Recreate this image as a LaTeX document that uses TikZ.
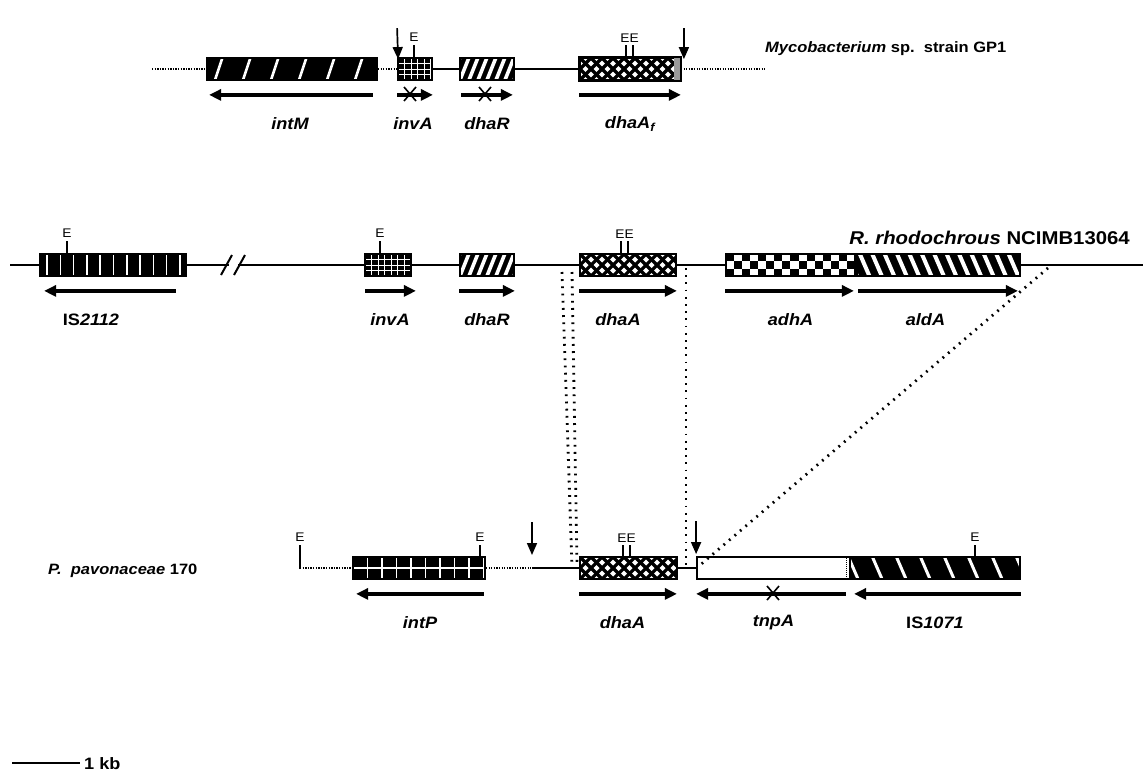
\documentclass[tikz,border=0pt]{standalone}
\usepackage{fontspec}
\setmainfont{Liberation Sans}[FakeStretch=1.1]
\usetikzlibrary{arrows.meta}

\begin{document}
\begin{tikzpicture}[
        x=1pt, y=-1pt,
        every node/.style={inner sep=0pt},
        gene/.style={draw, line width=1.8pt, minimum height=22pt},
        nome/.style={font=\fontsize{16.5}{19}\selectfont\bfseries\itshape},
        especie/.style={font=\fontsize{16.5}{19}\selectfont\bfseries},
        letra/.style={font=\fontsize{12.5}{14}\selectfont, above=2.5pt},
        fio/.style={line width=2.6pt},
        pontilhado/.style={line width=2.6pt, dash pattern=on 1.3pt off 1.3pt},
        projecao/.style={line width=2.8pt, dash pattern=on 1.8pt off 5.4pt},
        sitio/.style={line width=1.7pt},
        corte/.style={-{Triangle[length=12pt,width=10pt]}, line width=1.7pt},
        sentido/.style={-{Triangle[length=12pt,width=11pt]}, line width=3.3pt},
        cruz/.style={line width=1.6pt},
        listras/.style n args={4}{fill=black, path picture={
            \foreach \k in {-8,...,40}
                \draw[white, line width=#2] ([xshift=#4+\k*#1]path picture bounding box.south west) -- ++(#3,-30);
        }},
        grade/.style n args={3}{fill=black, path picture={
            \foreach \k in {1,...,25}
                \draw[white, line width=#3] ([xshift=\k*#1]path picture bounding box.south west) -- ++(0,-30);
            \foreach \k in {1,...,4}
                \draw[white, line width=#3] ([yshift=\k*#2]path picture bounding box.south west) -- ++(200,0);
        }},
        xadrez/.style={fill=white, path picture={
            \foreach \i in {0,2,...,16}{
                \fill[black] ([xshift=\i*8.06pt]path picture bounding box.south west) rectangle ++(8.06,-7.33);
                \fill[black] ([xshift=\i*8.06pt, yshift=14.67pt]path picture bounding box.south west) rectangle ++(8.06,-7.33);
                \fill[black] ([xshift=\i*8.06pt+8.06pt, yshift=7.33pt]path picture bounding box.south west) rectangle ++(8.06,-7.33);
            }
        }},
        losango/.style={fill=white, path picture={
            \foreach \k in {-6,...,20}{
                \draw[line width=3.2pt] ([xshift=\k*11pt]path picture bounding box.south west) -- ++(24,-24);
                \draw[line width=3.2pt] ([xshift=\k*11pt]path picture bounding box.south west) -- ++(-24,-24);
            }
        }}
    ]

        \useasboundingbox (0,0) rectangle (1143,777);

        %--------------------------------
        % Mycobacterium sp. strain GP1
        %--------------------------------
        \node[gene, minimum width=170pt, listras={28pt}{2.6pt}{10}{8pt}] (intM) at (292,69) {};
        \node[gene, minimum width=34pt, grade={6.5pt}{5.5pt}{0.9pt}] (invAm) at (415,69) {};
        \node[gene, minimum width=54pt, listras={9pt}{3.6pt}{12}{0pt}] (dhaRm) at (487,69) {};
        \node[gene, minimum width=100pt, losango] (dhaAf) at (630,69) {};
        \fill[black!40] ([xshift=-7pt]dhaAf.north east) rectangle (dhaAf.south east);
        \draw[line width=1.8pt] (dhaAf.north west) rectangle (dhaAf.south east);

        \coordinate (m0) at (152,69);
        \coordinate (m1) at (765,69);
        \draw[pontilhado] (m0) -- (intM.west);
        \draw[pontilhado] (intM.east) -- (invAm.west);
        \draw[fio] (invAm.east) -- (dhaRm.west);
        \draw[fio] (dhaRm.east) -- (dhaAf.west);
        \draw[pontilhado] (dhaAf.east) -- (m1);

        \draw[sitio] (414,58) -- (414,45) node[letra] (eM1) {E};
        \draw[sitio] (626,58) -- (626,45) (633,58) -- (633,45);
        \node[letra] (eM2) at (629.5,45) {EE};

        \draw[corte] ([yshift=29pt]invAm.north west) -- ([xshift=1pt, yshift=-2pt]invAm.north west);
        \draw[corte] ([xshift=3pt,yshift=29pt]dhaAf.north east) -- ([xshift=3pt, yshift=-2pt]dhaAf.north east);

        \node[especie, font=\fontsize{15}{18}\selectfont\bfseries, anchor=base west] (myco) at (765,52) {\textit{Mycobacterium} sp.~~strain GP1};

        %--------------------------------
        % R. rhodochrous NCIMB13064
        %--------------------------------
        \node[gene, minimum width=146pt, listras={13.3pt}{1.5pt}{0}{7pt}] (IS2112) at (113,265) {};
        \node[gene, minimum width=46pt, grade={6.5pt}{5.5pt}{0.9pt}] (invAr) at (388,265) {};
        \node[gene, minimum width=54pt, listras={9pt}{3.6pt}{12}{0pt}] (dhaRr) at (487,265) {};
        \node[gene, minimum width=96pt, losango] (dhaAr) at (628,265) {};
        \node[gene, minimum width=129pt, xadrez] (adhA) at (790.5,265) {};
        \node[gene, minimum width=163pt, listras={12.4pt}{4pt}{-13}{0pt}] (aldA) at (938.5,265) {};

        \coordinate (r0) at (10,265);
        \coordinate (r1) at (1143,265);
        \draw[fio] (r0) -- (IS2112.west);
        \draw[fio] (IS2112.east) -- (invAr.west);
        \draw[fio] (invAr.east) -- (dhaRr.west);
        \draw[fio] (dhaRr.east) -- (dhaAr.west);
        \draw[fio] (dhaAr.east) -- (adhA.west);
        \draw[fio] (aldA.east) -- (r1);

        % quebra
        \draw[white, line width=4pt] (229,265) -- (238,265);
        \draw[line width=2pt] (221,275) -- (232,255) (234,275) -- (245,255);

        \draw[sitio] (67,254) -- (67,241) node[letra] (eR1) {E};
        \draw[sitio] (380,254) -- (380,241) node[letra] (eR2) {E};
        \draw[sitio] (621,254) -- (621,241) (628,254) -- (628,241);
        \node[letra] (eR3) at (624.5,241) {EE};

        \node[especie, font=\fontsize{18.5}{21}\selectfont\bfseries, anchor=base east] (rhodo) at (1130,244) {\textit{R. rhodochrous} NCIMB13064};

        %--------------------------------
        % P. pavonaceae 170
        %--------------------------------
        \node[gene, minimum width=132pt, grade={14.5pt}{11pt}{1.2pt}] (intP) at (419,568) {};
        \node[gene, minimum width=97pt, losango] (dhaAp) at (628.5,568) {};
        \node[gene, minimum width=153pt, fill=white] (tnpA) at (773.5,568) {};
        \node[gene, minimum width=170pt, listras={24pt}{3pt}{-13}{8pt}] (IS1071) at (935,568) {};
        \draw[line width=1pt, dash pattern=on 1pt off 1pt] ([xshift=-4pt]tnpA.north east) -- ([xshift=-4pt]tnpA.south east);

        \coordinate (p0) at (300,568);
        \coordinate (p1) at (532,568);
        \draw[pontilhado] (p0) -- (intP.west);
        \draw[pontilhado] (intP.east) -- (p1);
        \draw[fio] (p1) -- (dhaAp.west);
        \draw[fio] (dhaAp.east) -- (tnpA.west);

        \draw[sitio] (300,569) -- (300,545) node[letra] (eP1) {E};
        \draw[sitio] (480,557) -- (480,545) node[letra] (eP2) {E};
        \draw[sitio] (623,557) -- (623,545) (630,557) -- (630,545);
        \node[letra] (eP3) at (626.5,545) {EE};
        \draw[sitio] (975,557) -- (975,545) node[letra] (eP4) {E};

        \draw[corte] ([yshift=46pt]p1) -- ([yshift=13pt]p1);
        \draw[corte] ([yshift=35pt]tnpA.north west) -- ([yshift=2pt]tnpA.north west);

        \node[especie, font=\fontsize{15}{18}\selectfont\bfseries, anchor=base west] (pav) at (48,574) {\textit{P.~~pavonaceae} 170};

        %--------------------------------
        % sentido dos genes
        %--------------------------------
        \foreach \g/\a/\b in {invAm/0/0, dhaRm/2/-2, dhaAf/0/0, invAr/1/4, dhaRr/0/0, dhaAr/0/0, adhA/0/-2, aldA/2/-3, dhaAp/0/-1}
            \draw[sentido] ([xshift=\a*1pt, yshift=-14pt]\g.south west) -- ([xshift=\b*1pt, yshift=-14pt]\g.south east);

        \foreach \g/\a/\b in {intM/-5/3, IS2112/-11/5, intP/-2/4, tnpA/-5/0, IS1071/0/5}
            \draw[sentido] ([xshift=\a*1pt, yshift=-14pt]\g.south east) -- ([xshift=\b*1pt, yshift=-14pt]\g.south west);

        \foreach \x/\y in {410/94, 485/94, 773/593}
            \draw[cruz] ({\x-6},{\y-7}) -- ({\x+6},{\y+7}) ({\x-6},{\y+7}) -- ({\x+6},{\y-7});

        \foreach \g/\t/\d in {intM/intM/-2, invAm/invA/-2, dhaRm/dhaR/0, dhaAf/dhaA\textsubscript{f}/0,
                IS2112/\textup{IS}2112/-22, invAr/invA/2, dhaRr/dhaR/0, dhaAr/dhaA/-10, adhA/adhA/0, aldA/aldA/-13,
                intP/intP/1, dhaAp/dhaA/-6, tnpA/tnpA/0, IS1071/\textup{IS}1071/0}
            \node[nome] (l\g) at ([xshift=\d*1pt, yshift=-43pt]\g.south) {\t};

        %--------------------------------
        % regiões equivalentes
        %--------------------------------
        \coordinate (a1) at (562,272);
        \coordinate (a2) at (572,566);
        \coordinate (b1) at (572,272);
        \coordinate (b2) at (577,566);
        \coordinate (c1) at (686,268);
        \coordinate (c2) at (686,566);
        \coordinate (d1) at (1048,268);
        \coordinate (d2) at (699,566);
        \draw[projecao] (a1) -- (a2);
        \draw[projecao] (b1) -- (b2);
        \draw[projecao] (c1) -- (c2);
        \draw[projecao] (d1) -- (d2);

        %--------------------------------
        % escala
        %--------------------------------
        \coordinate (k0) at (12,763);
        \coordinate (k1) at (80,763);
        \draw[line width=1.6pt] (k0) -- (k1);
        \node[especie, anchor=base west] (kb) at (84,769) {1 kb};

    \end{tikzpicture}
\end{document}
